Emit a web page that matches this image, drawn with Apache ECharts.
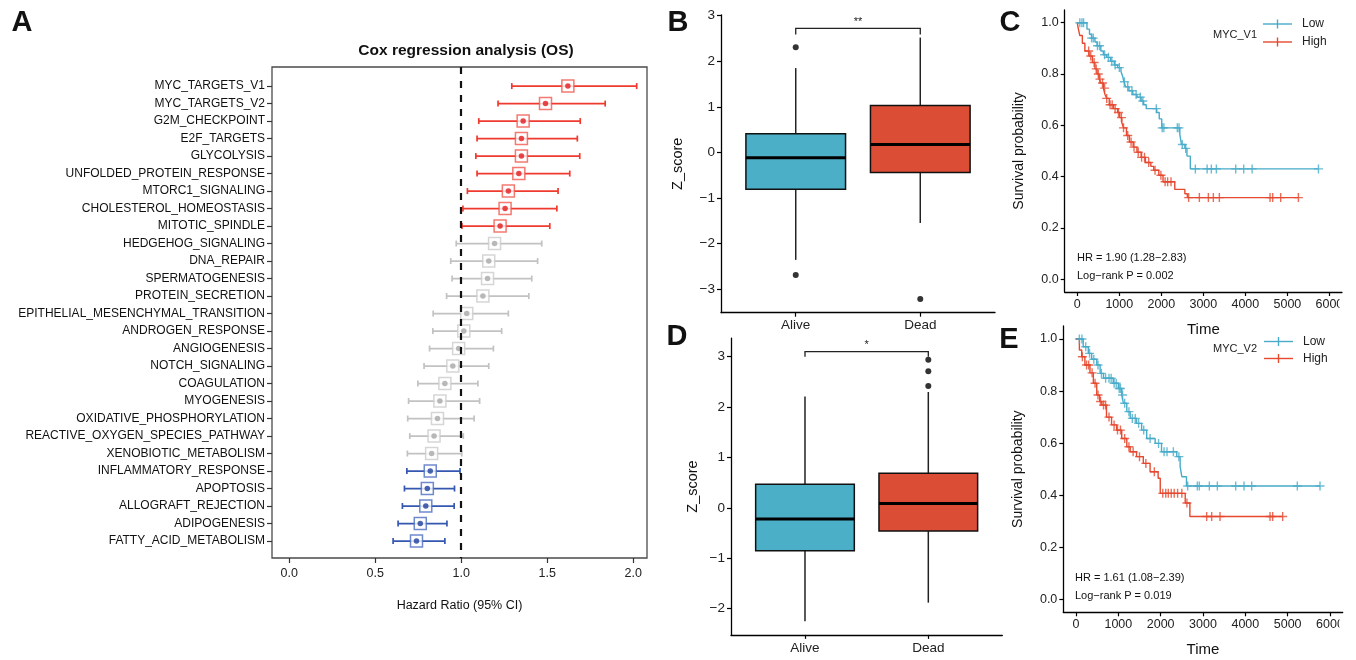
<!DOCTYPE html>
<html><head><meta charset="utf-8">
<script src="https://cdn.jsdelivr.net/npm/echarts@6/dist/echarts.min.js"></script>
<style>html,body{margin:0;padding:0;background:#fff}#c{width:1356px;height:660px}</style>
</head><body><div id="c"></div>
<script>
// ---------- Panel A: forest plot data ----------
const pathways = ['MYC_TARGETS_V1','MYC_TARGETS_V2','G2M_CHECKPOINT','E2F_TARGETS','GLYCOLYSIS','UNFOLDED_PROTEIN_RESPONSE','MTORC1_SIGNALING','CHOLESTEROL_HOMEOSTASIS','MITOTIC_SPINDLE','HEDGEHOG_SIGNALING','DNA_REPAIR','SPERMATOGENESIS','PROTEIN_SECRETION','EPITHELIAL_MESENCHYMAL_TRANSITION','ANDROGEN_RESPONSE','ANGIOGENESIS','NOTCH_SIGNALING','COAGULATION','MYOGENESIS','OXIDATIVE_PHOSPHORYLATION','REACTIVE_OXYGEN_SPECIES_PATHWAY','XENOBIOTIC_METABOLISM','INFLAMMATORY_RESPONSE','APOPTOSIS','ALLOGRAFT_REJECTION','ADIPOGENESIS','FATTY_ACID_METABOLISM'];
const hrValue = [1.62,1.49,1.36,1.35,1.35,1.335,1.274,1.255,1.226,1.194,1.16,1.153,1.126,1.032,1.015,0.985,0.951,0.905,0.876,0.862,0.842,0.828,0.82,0.803,0.794,0.762,0.74];
const hrLower = [1.294,1.214,1.102,1.092,1.085,1.092,1.036,1.01,1.004,0.971,0.939,0.947,0.915,0.837,0.835,0.816,0.784,0.748,0.694,0.689,0.701,0.687,0.684,0.67,0.658,0.633,0.604];
const hrUpper = [2.02,1.837,1.692,1.675,1.689,1.631,1.563,1.556,1.515,1.468,1.444,1.41,1.393,1.274,1.235,1.187,1.16,1.097,1.107,1.075,1.012,1.003,0.993,0.961,0.959,0.917,0.905];
const hrTicks = [0, 0.5, 1, 1.5, 2];

// ---------- Panels B / D: boxplots ----------
const groups = ['Alive', 'Dead'];
// [lower whisker, Q1, median, Q3, upper whisker]
const boxB = [[-2.36,-0.81,-0.12,0.41,1.85],[-1.55,-0.44,0.17,1.03,2.52]];
const outB = [[2.31,-2.69],[-3.22]];
const boxD = [[-2.25,-0.85,-0.22,0.47,2.21],[-1.88,-0.46,0.09,0.69,2.30]];
const outD = [[],[2.94,2.71,2.42]];
const zTicksB = [-3,-2,-1,0,1,2,3];
const zTicksD = [-2,-1,0,1,2,3];

// ---------- Panels C / E: Kaplan-Meier ----------
const kmC_low = [[0,1.0],[230,0.975],[290,0.955],[340,0.94],[420,0.925],[470,0.91],[560,0.89],[620,0.875],[700,0.865],[790,0.85],[880,0.835],[960,0.825],[1040,0.81],[1080,0.79],[1110,0.77],[1150,0.75],[1230,0.735],[1320,0.72],[1420,0.71],[1520,0.695],[1580,0.68],[1640,0.665],[1890,0.65],[1950,0.625],[2010,0.59],[2440,0.565],[2480,0.525],[2560,0.51],[2610,0.48],[2690,0.43],[5740,0.43]];
const censC_low = [60,110,150,340,380,480,530,650,740,820,900,1000,1120,1200,1300,1400,1500,1560,1880,2020,2060,2380,2420,2500,2580,2810,3090,3190,3310,3770,3960,4160,5740];
const kmC_high = [[0,1.0],[20,0.98],[60,0.95],[120,0.92],[180,0.89],[280,0.87],[360,0.845],[420,0.82],[470,0.8],[520,0.78],[560,0.765],[620,0.745],[660,0.72],[700,0.705],[760,0.68],[860,0.665],[960,0.65],[1010,0.63],[1060,0.61],[1100,0.59],[1170,0.56],[1240,0.535],[1330,0.515],[1420,0.495],[1520,0.475],[1620,0.455],[1750,0.44],[1820,0.425],[1940,0.405],[2040,0.38],[2320,0.35],[2560,0.333],[2620,0.318],[5262,0.318]];
const censC_high = [270,320,400,450,500,540,600,650,700,780,830,900,980,1050,1100,1200,1280,1350,1450,1530,1600,1700,1850,1990,2090,2150,2230,2650,2905,3119,3238,3381,4587,4651,4841,5262];
const kmE_low = [[0,1.0],[170,0.97],[290,0.945],[370,0.922],[490,0.9],[570,0.868],[650,0.849],[880,0.83],[1000,0.81],[1080,0.785],[1120,0.753],[1200,0.721],[1280,0.695],[1430,0.676],[1550,0.65],[1670,0.618],[1870,0.599],[2020,0.567],[2380,0.548],[2460,0.51],[2500,0.471],[2610,0.435],[5764,0.435]];
const censE_low = [80,140,230,320,420,520,600,700,780,830,900,950,1020,1050,1100,1150,1250,1330,1400,1480,1600,1750,1950,2080,2150,2300,2430,2638,2866,2913,3150,3339,3772,3969,4150,5228,5764];
const kmE_high = [[0,1.0],[80,0.958],[135,0.932],[210,0.9],[330,0.87],[410,0.83],[490,0.785],[560,0.76],[610,0.746],[720,0.7],[840,0.67],[960,0.65],[1080,0.618],[1200,0.586],[1280,0.567],[1430,0.548],[1590,0.522],[1750,0.49],[1940,0.465],[1990,0.407],[2580,0.37],[2690,0.318],[4882,0.318]];
const censE_high = [150,250,300,380,450,520,580,650,700,780,900,980,1050,1150,1250,1350,1500,1650,1850,2050,2120,2180,2250,2320,2400,2500,2620,3087,3205,3402,4583,4646,4882];
const timeTicks = [0,1000,2000,3000,4000,5000,6000];
const survTicks = [0,0.2,0.4,0.6,0.8,1.0];

// ---------- styling ----------
const FONT = 'Liberation Sans, Arial, sans-serif';
const COL = {
  up: {line:'#EF3A2F', box:'#F0584D', dot:'#E2191C'},
  ns: {line:'#C2C2C2', box:'#CACACA', dot:'#A8A8A8'},
  down: {line:'#3457B0', box:'#4B6BC0', dot:'#1D3E9C'}
};
const grpOf = i => hrLower[i] > 1 ? 'up' : (hrUpper[i] < 1 ? 'down' : 'ns');
const ALIVE = '#4BAFC8', DEAD = '#DC4D36';
const LOW = '#47ABC9', HIGH = '#E5492F';
const minus = v => (v < 0 ? '\u2212' + Math.abs(v) : String(v));

function survAt(curve, t) {
  let s = curve[0][1];
  for (const p of curve) { if (p[0] <= t) s = p[1]; }
  return s;
}

const chart = echarts.init(document.getElementById('c'), null, {renderer: 'canvas'});

function boxAxes(gridIndex, ticks, yMin, yMax, nameGap) {
  return {
    x: {
      type: 'value', gridIndex, min: 0.4, max: 2.6,
      splitLine: {show: false},
      axisLine: {show: true, onZero: false, lineStyle: {color: '#000', width: 1.3}},
      axisTick: {show: true, customValues: [1, 2], length: 4, lineStyle: {color: '#000', width: 1.2}},
      axisLabel: {customValues: [1, 2], formatter: v => groups[Math.round(v) - 1], margin: 6, fontFamily: FONT, fontSize: 13.5, color: '#222'}
    },
    y: {
      type: 'value', gridIndex, min: yMin, max: yMax,
      splitLine: {show: false},
      axisLine: {show: true, onZero: false, lineStyle: {color: '#000', width: 1.3}},
      axisTick: {show: true, customValues: ticks, length: 4, lineStyle: {color: '#000', width: 1.2}},
      axisLabel: {customValues: ticks, formatter: minus, margin: 6, fontFamily: FONT, fontSize: 13.5, color: '#222'},
      name: 'Z_score', nameLocation: 'middle', nameRotate: 90, nameGap,
      nameTextStyle: {fontFamily: FONT, fontSize: 14.5, color: '#111'}
    }
  };
}

function kmAxes(gridIndex, yNameGap) {
  return {
    x: {
      type: 'value', gridIndex, min: -300, max: 6300,
      splitLine: {show: false},
      axisLine: {show: true, onZero: false, lineStyle: {color: '#000', width: 1.3}},
      axisTick: {show: true, customValues: timeTicks, length: 4, lineStyle: {color: '#000', width: 1.2}},
      axisLabel: {customValues: timeTicks, formatter: v => String(v), margin: 6, fontFamily: FONT, fontSize: 12.5, color: '#222'},
      name: 'Time', nameLocation: 'middle', nameGap: 30,
      nameTextStyle: {fontFamily: FONT, fontSize: 15, color: '#111'}
    },
    y: {
      type: 'value', gridIndex, min: -0.05, max: 1.05,
      splitLine: {show: false},
      axisLine: {show: true, onZero: false, lineStyle: {color: '#000', width: 1.3}},
      axisTick: {show: true, customValues: survTicks, length: 4, lineStyle: {color: '#000', width: 1.2}},
      axisLabel: {customValues: survTicks, formatter: v => v.toFixed(1), margin: 6, fontFamily: FONT, fontSize: 12.5, color: '#222'},
      name: 'Survival probability', nameLocation: 'middle', nameRotate: 90, nameGap: yNameGap,
      nameTextStyle: {fontFamily: FONT, fontSize: 14, color: '#111'}
    }
  };
}

const bAx = boxAxes(1, zTicksB, -3.52, 3.02, 36);
const dAx = boxAxes(2, zTicksD, -2.52, 3.37, 31);
const cAx = kmAxes(3, 39);
const eAx = kmAxes(4, 38);

function boxSeries(xi, yi, boxes) {
  return {
    type: 'custom', xAxisIndex: xi, yAxisIndex: yi,
    data: boxes.map((b, i) => [i + 1].concat(b)),
    encode: {x: 0, y: [1, 2, 3, 4, 5]},
    renderItem: (params, api) => {
      const x = api.value(0);
      const lw = api.value(1), q1 = api.value(2), md = api.value(3), q3 = api.value(4), uw = api.value(5);
      const pUw = api.coord([x, uw]), pQ3 = api.coord([x, q3]), pQ1 = api.coord([x, q1]), pLw = api.coord([x, lw]);
      const tl = api.coord([x - 0.4, q3]), br = api.coord([x + 0.4, q1]);
      const ml = api.coord([x - 0.4, md]), mr = api.coord([x + 0.4, md]);
      const fill = params.dataIndex === 0 ? ALIVE : DEAD;
      return {type: 'group', children: [
        {type: 'line', shape: {x1: pUw[0], y1: pUw[1], x2: pQ3[0], y2: pQ3[1]}, style: {stroke: '#222', lineWidth: 1.5}},
        {type: 'line', shape: {x1: pQ1[0], y1: pQ1[1], x2: pLw[0], y2: pLw[1]}, style: {stroke: '#222', lineWidth: 1.5}},
        {type: 'rect', shape: {x: tl[0], y: tl[1], width: br[0] - tl[0], height: br[1] - tl[1]}, style: {fill, stroke: '#111', lineWidth: 1.5}},
        {type: 'line', shape: {x1: ml[0], y1: ml[1], x2: mr[0], y2: mr[1]}, style: {stroke: '#000', lineWidth: 3}}
      ]};
    }
  };
}
function outlierSeries(xi, yi, outs) {
  const d = [];
  outs.forEach((arr, i) => arr.forEach(v => d.push([i + 1, v])));
  return {type: 'scatter', xAxisIndex: xi, yAxisIndex: yi, data: d, symbol: 'circle', symbolSize: 6, itemStyle: {color: '#000'}, z: 5};
}
function bracketSeries(xi, yi, yTop, yLeg, label) {
  return {
    type: 'custom', xAxisIndex: xi, yAxisIndex: yi,
    data: [[1, 2, yTop, yLeg]],
    encode: {x: [0, 1], y: [2, 3]},
    renderItem: (params, api) => {
      const a = api.coord([api.value(0), api.value(3)]);
      const b = api.coord([api.value(0), api.value(2)]);
      const c = api.coord([api.value(1), api.value(2)]);
      const d = api.coord([api.value(1), api.value(3)]);
      return {type: 'group', children: [
        {type: 'polyline', shape: {points: [a, b, c, d]}, style: {stroke: '#222', lineWidth: 1.3, fill: 'none'}},
        {type: 'text', x: (b[0] + c[0]) / 2, y: b[1] - 1, style: {text: label, textAlign: 'center', textVerticalAlign: 'bottom', fontFamily: FONT, fontSize: 11, fill: '#222'}}
      ]};
    }
  };
}

const CROSS = 'path://M5,0L5,10M0,5L10,5';
function kmSeries(xi, yi, curve, cens, color) {
  return [
    {type: 'line', xAxisIndex: xi, yAxisIndex: yi, data: curve, step: 'end', showSymbol: false, lineStyle: {color, width: 1.4}, itemStyle: {color}, z: 3, animation: false},
    {type: 'scatter', xAxisIndex: xi, yAxisIndex: yi, data: cens.map(t => [t, survAt(curve, t)]), symbol: CROSS, symbolSize: 9,
      itemStyle: {color: 'rgba(0,0,0,0)', borderColor: color, borderWidth: 1.4}, z: 4, animation: false}
  ];
}

// forest series
const forestBars = {
  type: 'custom', xAxisIndex: 0, yAxisIndex: 0,
  data: pathways.map((p, i) => [i, hrLower[i], hrUpper[i]]),
  encode: {y: 0, x: [1, 2]},
  renderItem: (params, api) => {
    const i = api.value(0);
    const a = api.coord([api.value(1), i]), b = api.coord([api.value(2), i]);
    const c = COL[grpOf(params.dataIndex)].line;
    const st = {stroke: c, lineWidth: 1.7};
    return {type: 'group', children: [
      {type: 'line', shape: {x1: a[0], y1: a[1], x2: b[0], y2: b[1]}, style: st},
      {type: 'line', shape: {x1: a[0], y1: a[1] - 3, x2: a[0], y2: a[1] + 3}, style: st},
      {type: 'line', shape: {x1: b[0], y1: b[1] - 3, x2: b[0], y2: b[1] + 3}, style: st}
    ]};
  },
  markLine: {
    silent: true, symbol: 'none', label: {show: false},
    lineStyle: {color: '#111', type: [7, 7], width: 2.2},
    data: [{xAxis: 1}]
  },
  z: 2
};
const forestBoxes = {
  type: 'scatter', xAxisIndex: 0, yAxisIndex: 0, symbol: 'rect', symbolSize: 12,
  data: pathways.map((p, i) => ({value: [hrValue[i], i], itemStyle: {color: '#fff', borderColor: COL[grpOf(i)].box, borderWidth: 1.5}})),
  z: 3
};
const forestDots = {
  type: 'scatter', xAxisIndex: 0, yAxisIndex: 0, symbol: 'circle', symbolSize: 5.5,
  data: pathways.map((p, i) => ({value: [hrValue[i], i], itemStyle: {color: COL[grpOf(i)].dot}})),
  z: 4
};

const idx = pathways.map((p, i) => i);

function legendGraphic(x0, yLow, yHigh, xName, yName, name) {
  const items = [];
  [[yLow, LOW, 'Low'], [yHigh, HIGH, 'High']].forEach(([y, c, t]) => {
    items.push({type: 'line', shape: {x1: x0, y1: y, x2: x0 + 29, y2: y}, style: {stroke: c, lineWidth: 1.4}});
    items.push({type: 'line', shape: {x1: x0 + 14.5, y1: y - 4.5, x2: x0 + 14.5, y2: y + 4.5}, style: {stroke: c, lineWidth: 1.4}});
    items.push({type: 'text', x: x0 + 39, y, style: {text: t, textVerticalAlign: 'middle', fontFamily: FONT, fontSize: 12, fill: '#222'}});
  });
  items.push({type: 'text', x: xName, y: yName, style: {text: name, textAlign: 'right', textVerticalAlign: 'middle', fontFamily: FONT, fontSize: 11, fill: '#222'}});
  return items;
}
function txt(x, y, t, size, bold, align) {
  return {type: 'text', x, y, style: {text: t, textAlign: align || 'left', textVerticalAlign: 'middle', fontFamily: FONT, fontSize: size, fontWeight: bold ? 'bold' : 'normal', fill: '#111'}};
}

const option = {
  backgroundColor: '#fff',
  animation: false,
  title: {
    text: 'Cox regression analysis (OS)', left: 461, top: 38, textAlign: 'center',
    textStyle: {fontFamily: FONT, fontSize: 15.5, fontWeight: 'bold', color: '#111'}
  },
  grid: [
    {left: 272, top: 67, width: 375, height: 491, show: true, borderColor: '#4a4a4a', borderWidth: 1.3, backgroundColor: 'transparent'},
    {left: 721, top: 14.8, width: 274, height: 297.9},
    {left: 731, top: 338.1, width: 271.3, height: 296.8},
    {left: 1064.7, top: 9.9, width: 277.3, height: 282.1},
    {left: 1063.3, top: 326, width: 279.4, height: 286.3}
  ],
  xAxis: [
    {type: 'value', gridIndex: 0, min: -0.1, max: 2.08, splitLine: {show: false},
      axisLine: {show: false, onZero: false},
      axisTick: {show: true, customValues: hrTicks, length: 5, lineStyle: {color: '#333', width: 1.2}},
      axisLabel: {customValues: hrTicks, formatter: v => v.toFixed(1), margin: 9, fontFamily: FONT, fontSize: 12.5, color: '#222'},
      name: 'Hazard Ratio (95% CI)', nameLocation: 'middle', nameGap: 41,
      nameTextStyle: {fontFamily: FONT, fontSize: 12.5, color: '#111'}},
    bAx.x, dAx.x, cAx.x, eAx.x
  ],
  yAxis: [
    {type: 'value', gridIndex: 0, inverse: true, min: -1.09, max: 26.97, splitLine: {show: false},
      axisLine: {show: false, onZero: false},
      axisTick: {show: true, customValues: idx, length: 5, lineStyle: {color: '#333', width: 1.2}},
      axisLabel: {customValues: idx, formatter: v => pathways[Math.round(v)] || '', margin: 7, fontFamily: FONT, fontSize: 12, color: '#111'}},
    bAx.y, dAx.y, cAx.y, eAx.y
  ],
  series: [
    forestBars, forestBoxes, forestDots,
    boxSeries(1, 1, boxB), outlierSeries(1, 1, outB), bracketSeries(1, 1, 2.72, 2.59, '**'),
    boxSeries(2, 2, boxD), outlierSeries(2, 2, outD), bracketSeries(2, 2, 3.10, 3.0, '*'),
    ...kmSeries(3, 3, kmC_low, censC_low, LOW), ...kmSeries(3, 3, kmC_high, censC_high, HIGH),
    ...kmSeries(4, 4, kmE_low, censE_low, LOW), ...kmSeries(4, 4, kmE_high, censE_high, HIGH)
  ],
  graphic: [
    txt(22, 23, 'A', 29, true, 'center'),
    txt(678, 23, 'B', 29, true, 'center'),
    txt(1010, 23, 'C', 29, true, 'center'),
    txt(677, 337, 'D', 29, true, 'center'),
    txt(1009, 340, 'E', 29, true, 'center'),
    ...legendGraphic(1263, 24, 42, 1257, 35, 'MYC_V1'),
    ...legendGraphic(1264, 341.5, 358.5, 1257, 349, 'MYC_V2'),
    txt(1077, 258, 'HR = 1.90 (1.28\u22122.83)', 11),
    txt(1077, 276, 'Log\u2212rank P = 0.002', 11),
    txt(1075, 578, 'HR = 1.61 (1.08\u22122.39)', 11),
    txt(1075, 596, 'Log\u2212rank P = 0.019', 11),
    {type: 'rect', shape: {x: 1339.5, y: 296, width: 17, height: 18}, style: {fill: '#fff'}, z: 100},
    {type: 'rect', shape: {x: 1339.5, y: 616, width: 17, height: 18}, style: {fill: '#fff'}, z: 100}
  ]
};
chart.setOption(option);
</script>
</body></html>
